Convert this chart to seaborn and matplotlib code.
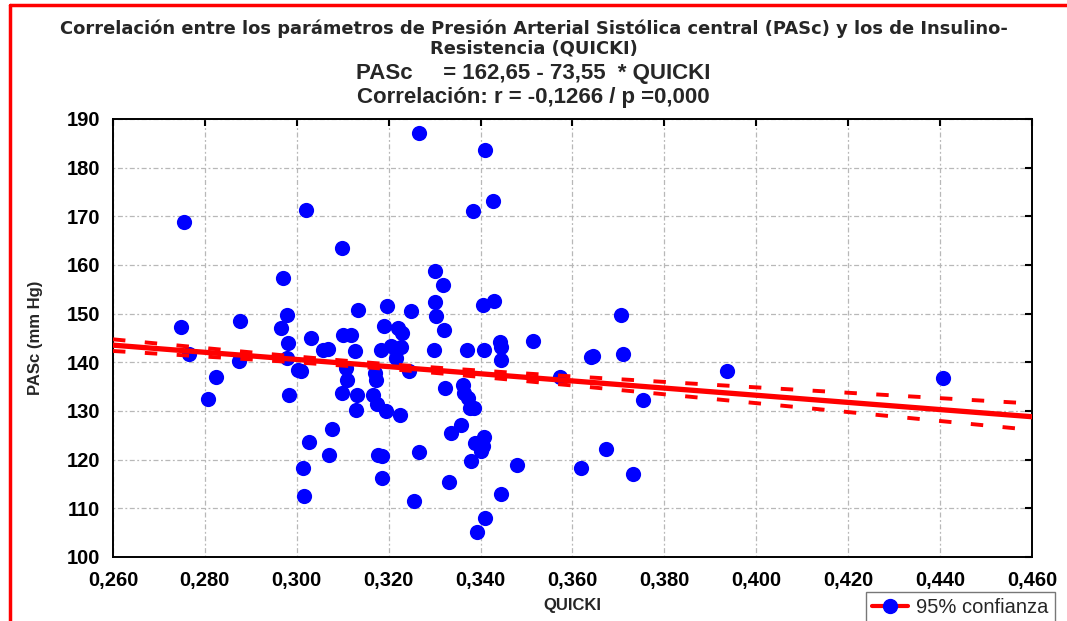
import numpy as np
import pandas as pd
import matplotlib
matplotlib.use("Agg")
import matplotlib.pyplot as plt
from matplotlib.lines import Line2D
from matplotlib.ticker import FixedLocator, FuncFormatter
import seaborn as sns

# ---- data ----
quicki = [0.2748, 0.2755, 0.2765, 0.2807, 0.2824, 0.2876, 0.2874, 0.2966, 0.2970, 0.2979,
          0.2981, 0.2979, 0.2983, 0.3003, 0.3010, 0.3013, 0.3016, 0.3020, 0.3027, 0.3031,
          0.3057, 0.3068, 0.3070, 0.3077, 0.3098, 0.3101, 0.3118, 0.3098, 0.3109, 0.3107,
          0.3127, 0.3131, 0.3129, 0.3133, 0.3166, 0.3170, 0.3172, 0.3175, 0.3177, 0.3185,
          0.3185, 0.3183, 0.3190, 0.3196, 0.3194, 0.3205, 0.3220, 0.3229, 0.3227, 0.3225,
          0.3249, 0.3244, 0.3255, 0.3266, 0.3266, 0.3301, 0.3301, 0.3303, 0.3299, 0.3318,
          0.3320, 0.3323, 0.3331, 0.3336, 0.3357, 0.3362, 0.3364, 0.3370, 0.3373, 0.3377,
          0.3379, 0.3383, 0.3386, 0.3388, 0.3392, 0.3401, 0.3405, 0.3407, 0.3410, 0.3405,
          0.3407, 0.3410, 0.3427, 0.3429, 0.3442, 0.3444, 0.3444, 0.3444, 0.3479, 0.3514,
          0.3573, 0.3618, 0.3640, 0.3645, 0.3673, 0.3706, 0.3710, 0.3732, 0.3753, 0.3936,
          0.4406, 0.3216]
pasc = [147.3, 168.8, 141.7, 132.5, 137.0, 148.5, 140.3, 147.1, 157.3, 149.7,
        144.0, 140.9, 133.3, 138.4, 138.2, 118.3, 112.5, 171.3, 123.6, 145.0,
        142.5, 142.7, 121.0, 126.3, 163.5, 145.6, 145.6, 133.7, 136.4, 138.8,
        142.3, 133.3, 130.2, 150.8, 133.3, 137.8, 136.4, 131.4, 121.0, 120.8,
        116.2, 142.5, 147.5, 151.6, 130.0, 143.4, 147.1, 146.0, 143.2, 129.2,
        150.5, 138.2, 111.5, 121.6, 187.1, 158.8, 152.4, 149.5, 142.5, 155.9,
        146.6, 134.7, 115.4, 125.5, 127.1, 135.3, 133.7, 142.5, 132.7, 130.6,
        119.7, 171.1, 130.6, 123.4, 105.1, 121.8, 122.8, 124.7, 183.6, 151.8,
        142.5, 108.0, 173.2, 152.6, 144.2, 143.2, 140.5, 113.0, 118.9, 144.4,
        137.0, 118.3, 141.1, 141.3, 122.2, 149.7, 141.7, 117.1, 132.3, 138.2,
        136.8, 140.9]

intercept = 162.65
slope = -73.55
# confidence band model parameters
ci_center = 0.318
ci_base = 0.25
ci_curv = 353.0

x_ticks = [0.26, 0.28, 0.30, 0.32, 0.34, 0.36, 0.38, 0.40, 0.42, 0.44, 0.46]
y_ticks = [100, 110, 120, 130, 140, 150, 160, 170, 180, 190]

title_lines = ["Correlación entre los parámetros de Presión Arterial Sistólica central (PASc) y los de Insulino-",
               "Resistencia (QUICKI)"]
eq_line = "PASc     = 162,65 - 73,55  * QUICKI"
corr_line = "Correlación: r = -0,1266 / p =0,000"

df = pd.DataFrame({"QUICKI": quicki, "PASc": pasc})

sns.set_style("white")
plt.rcParams["font.family"] = ["Liberation Sans", "DejaVu Sans"]

fig = plt.figure(figsize=(10.67, 6.21), dpi=100)
ax = fig.add_axes([0.1059, 0.1031, 0.8613, 0.7053])

xs = np.linspace(x_ticks[0], x_ticks[-1], 200)
fit = intercept + slope * xs
half = np.sqrt(ci_base + ci_curv * (xs - ci_center) ** 2)
line_df = pd.DataFrame({"x": xs, "fit": fit, "lo": fit - half, "hi": fit + half})

sns.scatterplot(data=df, x="QUICKI", y="PASc", ax=ax, color="#0000ff", s=120,
                edgecolor="#0000ff", linewidth=0, marker="o", zorder=3, legend=False)
sns.lineplot(data=line_df, x="x", y="fit", ax=ax, color="#ff0000", lw=3.8, zorder=4)
for col in ["lo", "hi"]:
    sns.lineplot(data=line_df, x="x", y=col, ax=ax, color="#ff0000", lw=2.8,
                 dashes=False, zorder=4).lines[-1].set_dashes((3.2, 5.0))

ax.set_xlim(x_ticks[0], x_ticks[-1])
ax.set_ylim(y_ticks[0], y_ticks[-1])
ax.xaxis.set_major_locator(FixedLocator(x_ticks))
ax.yaxis.set_major_locator(FixedLocator(y_ticks))
ax.xaxis.set_major_formatter(FuncFormatter(lambda v, p: f"{v:.3f}".replace(".", ",")))
ax.yaxis.set_major_formatter(FuncFormatter(lambda v, p: f"{v:.0f}"))
ax.grid(True, color="#b8b8b8", linestyle=(0, (1.5, 2, 4, 2)), linewidth=0.9)
ax.tick_params(direction="in", length=5, width=1.5, top=True, right=True,
               labelsize=14.5, colors="black")
ax.tick_params(axis="x", pad=10)
ax.tick_params(axis="y", pad=9)
for lab in ax.get_xticklabels() + ax.get_yticklabels():
    lab.set_fontweight("bold")
for sp in ax.spines.values():
    sp.set_color("black")
    sp.set_linewidth(1.4)

ax.set_xlabel("QUICKI", fontsize=12, fontweight="bold", labelpad=6)
ax.set_ylabel("PASc (mm Hg)", fontsize=12, fontweight="bold", labelpad=17)

fig.text(0.5, 1 - 29 / 621, title_lines[0], ha="center", va="center",
         fontsize=12.9, fontweight="bold", family=["DejaVu Sans"])
fig.text(0.5, 1 - 48 / 621, title_lines[1], ha="center", va="center",
         fontsize=12.9, fontweight="bold", family=["DejaVu Sans"])
fig.text(0.5, 1 - 73 / 621, eq_line, ha="center", va="center",
         fontsize=16, fontweight="bold")
fig.text(0.5, 1 - 97 / 621, corr_line, ha="center", va="center",
         fontsize=16, fontweight="bold")

handle = Line2D([], [], color="#ff0000", lw=3, marker="o", markersize=10,
                markerfacecolor="#0000ff", markeredgecolor="#0000ff")
fig.legend([handle], ["95% confianza"], loc="upper left",
           bbox_to_anchor=(866 / 1067, 1 - 592 / 621), frameon=True, fancybox=False,
           edgecolor="#555555", fontsize=14.5, handlelength=1.8, borderpad=0.3,
           handletextpad=0.4, borderaxespad=0)

# red outer frame (top and left)
fig.add_artist(Line2D([10 / 1067, 1.0], [1 - 5 / 621, 1 - 5 / 621],
                      transform=fig.transFigure, color="#ff0000", lw=2.5))
fig.add_artist(Line2D([10 / 1067, 10 / 1067], [0, 1 - 5 / 621],
                      transform=fig.transFigure, color="#ff0000", lw=2.5))

fig.savefig("out.png", dpi=100)
